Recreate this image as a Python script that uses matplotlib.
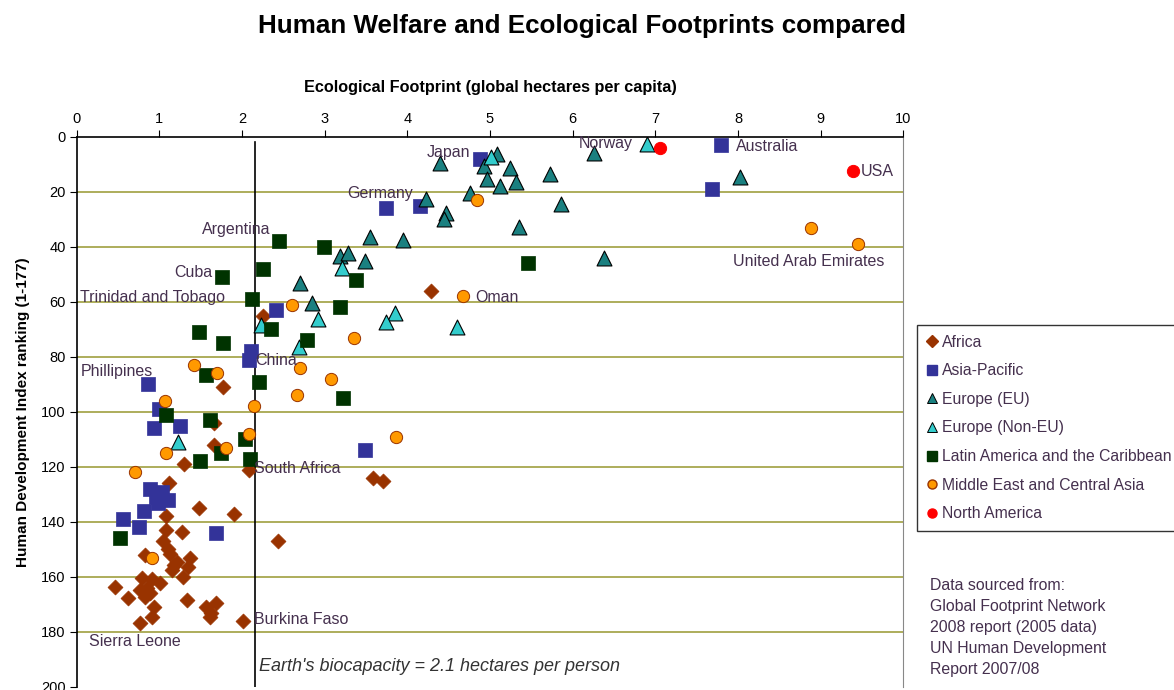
import matplotlib
matplotlib.use("Agg")
import matplotlib.pyplot as plt
from matplotlib.lines import Line2D

plt.rcParams['font.family'] = ['Liberation Sans', 'DejaVu Sans']

# ---------------- data (footprint in gha/capita, HDI rank) ----------------
africa_x = [4.29, 2.25, 1.77, 1.66, 1.66, 1.30, 2.08, 1.12, 3.59, 3.70, 1.48, 1.90,
            1.08, 1.08, 1.27, 2.44, 1.05, 1.11, 1.13, 0.83, 1.21, 1.37, 1.35, 1.15,
            1.29, 1.18, 0.79, 0.91, 1.01, 0.85, 0.77, 0.89, 0.83, 0.62, 0.46, 1.34,
            0.93, 0.91, 0.77, 1.57, 1.69, 1.63, 1.61, 2.01]
africa_y = [56, 65, 91, 104, 112, 119, 121, 126, 124, 125, 135, 137,
            138, 143, 143.5, 147, 147, 150, 151.5, 152, 154.4, 153.2, 156.3, 157.5,
            159.9, 155.5, 160.5, 160.8, 162.3, 164.1, 164.7, 165.9, 167.2, 167.5, 163.5, 168.4,
            170.8, 174.4, 176.6, 170.8, 169.6, 173.2, 174.4, 175.9]

asia_x = [7.80, 7.68, 4.88, 4.15, 3.74, 2.41, 2.11, 2.09, 0.86, 1.00, 1.25, 0.94,
          3.49, 0.89, 1.03, 0.96, 1.10, 0.98, 0.82, 0.56, 0.75, 1.69]
asia_y = [3, 19, 8, 25, 26, 63, 78, 81, 90, 99, 105, 106,
          114, 128, 129, 131, 132, 133, 136, 139, 142, 144]

eu_x = [4.39, 5.09, 4.93, 5.24, 4.97, 5.12, 5.31, 5.73, 4.76, 4.23, 5.86, 4.47,
        4.44, 5.35, 6.26, 3.55, 3.95, 3.49, 6.38, 8.03, 3.18, 3.28, 2.70, 2.85]
eu_y = [9.6, 6.2, 10.5, 11.4, 15.4, 17.8, 16.2, 13.6, 20.5, 22.7, 24.4, 27.5,
        29.9, 32.6, 5.7, 36.5, 37.5, 45.1, 44.1, 14.7, 43.3, 42.3, 53.2, 60.5]

noneu_x = [5.01, 6.90, 3.21, 2.92, 3.85, 3.74, 2.23, 2.69, 4.60, 1.22]
noneu_y = [7.2, 2.5, 47.7, 66.3, 64.1, 67.2, 68.4, 76.3, 69, 110.8]

latam_x = [2.45, 2.99, 2.26, 3.38, 2.12, 3.19, 2.35, 2.79, 2.20, 3.22, 1.76, 1.48,
           1.77, 1.56, 1.08, 1.61, 2.04, 1.75, 1.49, 2.10, 0.53, 5.46]
latam_y = [38, 40, 48, 52, 59, 62, 70, 74, 89, 95, 51, 71,
           75, 86.5, 101, 103, 110, 115, 118, 117, 146, 46]

mideast_x = [8.88, 9.45, 4.84, 4.67, 2.61, 3.36, 2.70, 3.08, 2.66, 2.14, 3.86, 1.42,
             1.70, 1.07, 2.08, 1.81, 1.08, 0.70, 0.91]
mideast_y = [33, 39, 23, 58, 61, 73, 84, 88, 94, 98, 109, 83,
             86, 96, 108, 113, 115, 122, 153]

namerica_x = [7.06, 9.39]
namerica_y = [4, 12.4]

biocapacity = 2.16
x_ticks = list(range(0, 11))
y_ticks = list(range(0, 201, 20))

labels = [
    ("Japan", 4.76, 5.5, 'right'),
    ("Norway", 6.73, 2.5, 'right'),
    ("Australia", 7.97, 3.6, 'left'),
    ("USA", 9.48, 12.4, 'left'),
    ("Germany", 4.07, 20.7, 'right'),
    ("Argentina", 2.34, 33.8, 'right'),
    ("Cuba", 1.64, 49.1, 'right'),
    ("Trinidad and Tobago", 0.04, 58.2, 'left'),
    ("Oman", 4.82, 58.2, 'left'),
    ("United Arab Emirates", 7.94, 45.1, 'left'),
    ("China", 2.16, 81.1, 'left'),
    ("Phillipines", 0.05, 85.1, 'left'),
    ("South Africa", 2.15, 120.7, 'left'),
    ("Burkina Faso", 2.15, 175.6, 'left'),
    ("Sierra Leone", 0.15, 183.6, 'left'),
]

# ---------------- figure ----------------
fig = plt.figure(figsize=(11.74, 6.90), dpi=100)
ax = fig.add_axes([0.0653, 0.00435, 0.7041, 0.7971])

ax.set_xlim(0, 10)
ax.set_ylim(200, 0)
ax.xaxis.tick_top()
ax.xaxis.set_label_position('top')
ax.set_xticks(x_ticks)
ax.set_yticks(y_ticks)
ax.tick_params(axis='both', labelsize=10.5, length=5, direction='out', color='black', pad=3)
for yy in y_ticks[1:-1]:
    ax.axhline(yy, color='#a0a040', lw=1.2, zorder=1)
ax.spines['bottom'].set_visible(False)
ax.spines['right'].set_color('#888888')
ax.spines['left'].set_linewidth(1.2)
ax.spines['top'].set_linewidth(1.2)

ax.plot([biocapacity, biocapacity], [2, 200], color='black', lw=1.2, zorder=2)

ax.scatter(africa_x, africa_y, marker='D', s=58, c='#993300', edgecolors='#993300', linewidths=0.5, zorder=3)
ax.scatter(asia_x, asia_y, marker='s', s=90, c='#333399', edgecolors='#333399', linewidths=0.5, zorder=3)
ax.scatter(eu_x, eu_y, marker='^', s=115, c='#1a8080', edgecolors='black', linewidths=0.8, zorder=3)
ax.scatter(noneu_x, noneu_y, marker='^', s=115, c='#33cccc', edgecolors='black', linewidths=0.8, zorder=3)
ax.scatter(latam_x, latam_y, marker='s', s=90, c='#003300', edgecolors='#003300', linewidths=0.5, zorder=3)
ax.scatter(mideast_x, mideast_y, marker='o', s=78, c='#ff9900', edgecolors='#993300', linewidths=0.7, zorder=3)
ax.scatter(namerica_x, namerica_y, marker='o', s=78, c='#ff0000', edgecolors='#ff0000', linewidths=0.7, zorder=3)

lab_color = '#45304e'
for txt, x, y, ha in labels:
    ax.text(x, y, txt, ha=ha, va='center', fontsize=11.5, color=lab_color, zorder=4)

ax.text(2.21, 192.5, "Earth's biocapacity = 2.1 hectares per person", fontsize=13,
        style='italic', color='#333333', ha='left', va='center')

ax.set_xlabel("Ecological Footprint (global hectares per capita)", fontsize=11.7,
              fontweight='bold', labelpad=14)
ax.set_ylabel("Human Development Index ranking (1-177)", fontsize=11,
              fontweight='bold', labelpad=8)

fig.text(0.496, 0.962, "Human Welfare and Ecological Footprints compared",
         ha='center', va='center', fontsize=18.7, fontweight='bold')

# legend
handles = [
    Line2D([], [], ls='', marker='D', ms=6, mfc='#993300', mec='#993300', label='Africa'),
    Line2D([], [], ls='', marker='s', ms=6.5, mfc='#333399', mec='#333399', label='Asia-Pacific'),
    Line2D([], [], ls='', marker='^', ms=7, mfc='#1a8080', mec='black', mew=0.7, label='Europe (EU)'),
    Line2D([], [], ls='', marker='^', ms=7, mfc='#33cccc', mec='black', mew=0.7, label='Europe (Non-EU)'),
    Line2D([], [], ls='', marker='s', ms=6.5, mfc='#003300', mec='#003300', label='Latin America and the Caribbean'),
    Line2D([], [], ls='', marker='o', ms=6.5, mfc='#ff9900', mec='#993300', label='Middle East and Central Asia'),
    Line2D([], [], ls='', marker='o', ms=6.5, mfc='#ff0000', mec='#ff0000', label='North America'),
]
leg = ax.legend(handles=handles, loc='upper left', bbox_to_anchor=(1.0166, 0.658),
                fontsize=11.3, frameon=True, fancybox=False, edgecolor='black',
                handlelength=0.7, handletextpad=0.3, labelspacing=0.87,
                borderpad=0.6, borderaxespad=0)
leg.get_frame().set_linewidth(1.0)
for t in leg.get_texts():
    t.set_color(lab_color)

fig.text(0.792, 0.163, "Data sourced from:\nGlobal Footprint Network\n2008 report (2005 data)\nUN Human Development\nReport 2007/08",
         ha='left', va='top', fontsize=11.4, color=lab_color, linespacing=1.5)

fig.savefig('out.png', dpi=100)
